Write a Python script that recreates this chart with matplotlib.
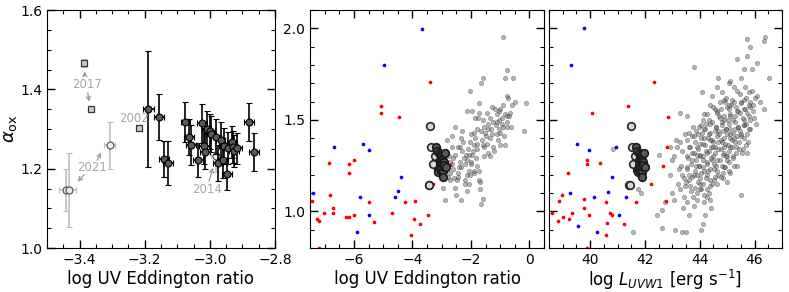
import matplotlib
matplotlib.use('Agg')
import matplotlib.pyplot as plt
from matplotlib.ticker import MultipleLocator

plt.rcParams['font.family'] = ['DejaVu Sans']
plt.rcParams['font.size'] = 10

# our source: dark points (log UV Eddington ratio, alpha_ox, errors, log L_UVW1)
dark_edd = [-3.189, -3.157, -3.140, -3.128, -3.075, -3.064, -3.058, -3.036, -3.023,
            -3.017, -3.015, -3.010, -3.000, -2.996, -2.981, -2.974, -2.967, -2.959,
            -2.957, -2.948, -2.943, -2.931, -2.930, -2.925, -2.916, -2.879, -2.864]
dark_aox = [1.350, 1.330, 1.224, 1.214, 1.318, 1.279, 1.259, 1.221, 1.314,
            1.258, 1.243, 1.301, 1.294, 1.287, 1.281, 1.214, 1.272, 1.222,
            1.258, 1.186, 1.252, 1.268, 1.255, 1.245, 1.251, 1.318, 1.241]
dark_aerr = [0.146, 0.058, 0.046, 0.055, 0.050, 0.045, 0.050, 0.043, 0.050,
             0.045, 0.045, 0.045, 0.045, 0.045, 0.045, 0.045, 0.045, 0.045,
             0.045, 0.040, 0.040, 0.040, 0.040, 0.040, 0.040, 0.048, 0.048]
dark_eerr = [0.017, 0.015, 0.015, 0.015, 0.015, 0.015, 0.015, 0.015, 0.015,
             0.015, 0.015, 0.015, 0.015, 0.015, 0.015, 0.015, 0.015, 0.015,
             0.015, 0.015, 0.015, 0.015, 0.015, 0.015, 0.015, 0.015, 0.015]
dark_lum = [41.67, 41.70, 41.72, 41.73, 41.79, 41.80, 41.80, 41.82, 41.84,
            41.84, 41.85, 41.85, 41.86, 41.86, 41.88, 41.89, 41.89, 41.90,
            41.90, 41.91, 41.92, 41.93, 41.93, 41.94, 41.94, 41.98, 42.00]

# older epochs
sq_edd = [-3.386, -3.366, -3.218]
sq_aox = [1.467, 1.350, 1.3025]
sq_aerr = [0.010, 0.0, 0.0]
sq_lum = [41.50, 41.51, 41.65]

old_edd = [-3.443, -3.432, -3.307, -2.981]
old_aox = [1.146, 1.146, 1.259, 1.232]
old_aerr = [0.053, 0.093, 0.059, 0.040]
old_eerr = [0.020, 0.020, 0.017, 0.015]
old_lum = [41.43, 41.45, 41.55, 41.88]

# comparison samples: red and blue
red_edd = [-3.39, -5.06, -5.07, -4.47, -6.85, -5.98, -6.18, -6.18, -6.81, -6.71,
           -6.71, -7.03, -7.44, -7.25, -7.18, -7.20, -6.27, -6.16, -6.00, -5.47,
           -5.30, -4.71, -4.25, -3.91, -3.94, -3.73, -4.05, -3.47, -3.28, -2.71]
red_aox_e = [1.709, 1.578, 1.538, 1.518, 1.267, 1.278, 1.258, 1.209, 1.087, 1.018,
             0.989, 0.989, 1.058, 0.958, 0.950, 0.800, 0.969, 0.969, 0.978, 1.051,
             0.940, 0.989, 1.051, 1.058, 0.958, 0.929, 0.869, 0.978, 1.149, 1.251]
blue_edd = [-3.68, -4.98, -6.69, -5.69, -5.48, -4.39, -4.48, -4.58, -5.79, -7.39,
            -5.49, -5.89]
blue_aox_e = [1.996, 1.798, 1.349, 1.369, 1.338, 1.187, 1.109, 1.078, 1.078, 1.098,
              0.978, 0.889]

red_lum = [42.33, 41.38, 40.08, 42.83, 42.81, 40.37, 39.88, 39.88, 39.18, 42.67,
           42.23, 39.79, 38.87, 38.96, 39.76, 39.35, 38.60, 39.02, 39.24, 38.82,
           39.96, 40.59, 40.73, 40.81, 40.63, 41.68, 41.23, 40.59, 42.78, 39.90]
red_aox_l = [1.709, 1.578, 1.538, 1.518, 1.349, 1.267, 1.278, 1.258, 1.209, 1.249,
             1.149, 1.067, 1.058, 1.087, 1.018, 0.989, 0.989, 0.967, 0.958, 0.949,
             0.978, 1.049, 0.989, 0.978, 0.938, 1.049, 0.929, 0.869, 1.058, 0.800]
blue_lum = [39.76, 39.32, 39.51, 39.95, 40.94, 40.79, 40.65, 40.15, 41.31, 39.28,
            41.07, 39.56, 40.25]
blue_aox_l = [2.000, 1.800, 1.369, 1.338, 1.349, 1.187, 1.107, 1.078, 1.078, 1.098,
              0.978, 0.918, 0.889]

# grey AGN sample vs Eddington ratio
grey_edd = [-0.90, -0.78, -0.85, -1.60, -1.65, -2.02, -0.55, -0.77, -0.72, -0.10,
            -1.71, -1.97, -2.14, -1.73, -1.46, -1.28, -1.16, -1.05, -0.89, -0.59,
            -0.84, -1.12, -1.35, -1.76, -1.87, -1.57, -1.55, -1.40, -1.23, -1.04,
            -0.95, -0.78, -0.75, -1.43, -1.78, -1.67, -1.88, -1.99, -2.33, -2.53,
            -2.65, -2.83, -2.45, -2.28, -2.03, -1.89, -1.78, -1.49, -1.27, -1.00,
            -1.08, -0.86, -0.18, -1.26, -1.55, -1.80, -1.94, -2.05, -2.31, -2.37,
            -2.54, -2.76, -2.85, -2.14, -1.55, -1.40, -1.35, -1.99, -2.21, -2.37,
            -2.66, -2.87, -3.00, -2.70, -2.62, -1.80, -1.73, -1.90, -2.06, -2.33,
            -2.45, -2.14, -2.02, -2.08, -2.21, -2.49, -2.94, -2.53, -2.14, -1.69,
            -1.73, -1.70, -1.60, -1.67, -2.52, -2.34, -2.90, -1.12, -1.00, -0.83,
            -0.89, -0.66, -0.75, -1.00, -2.78, -2.60, -2.95, -2.70,
            -2.25, -1.95, -1.62, -1.30, -1.15, -0.95, -2.40, -2.10, -1.85, -1.52,
            -2.72, -2.58, -2.20, -1.90, -1.45, -1.20, -2.88, -2.63, -2.30, -1.98,
            -1.35, -1.10, -0.70, -0.48, -1.58, -2.18, -2.43, -1.83, -1.05, -0.62]
grey_aox_e = [1.95, 1.77, 1.73, 1.73, 1.70, 1.66, 1.73, 1.63, 1.62, 1.59,
              1.59, 1.55, 1.55, 1.54, 1.54, 1.57, 1.56, 1.55, 1.58, 1.58,
              1.53, 1.53, 1.51, 1.51, 1.51, 1.50, 1.46, 1.48, 1.49, 1.50,
              1.51, 1.52, 1.46, 1.45, 1.45, 1.44, 1.43, 1.42, 1.40, 1.46,
              1.41, 1.39, 1.35, 1.38, 1.38, 1.36, 1.37, 1.41, 1.42, 1.43,
              1.39, 1.41, 1.44, 1.35, 1.35, 1.34, 1.33, 1.31, 1.33, 1.35,
              1.31, 1.30, 1.32, 1.28, 1.30, 1.32, 1.30, 1.27, 1.26, 1.27,
              1.26, 1.25, 1.23, 1.21, 1.23, 1.25, 1.22, 1.22, 1.22, 1.24,
              1.21, 1.20, 1.20, 1.15, 1.17, 1.17, 1.13, 1.13, 1.11, 1.16,
              1.17, 1.12, 1.07, 1.04, 1.09, 1.06, 1.06, 1.42, 1.36, 1.36,
              1.46, 1.54, 1.49, 1.56, 1.19, 1.29, 1.28, 1.17,
              1.29, 1.31, 1.39, 1.45, 1.47, 1.48, 1.24, 1.34, 1.40, 1.43,
              1.27, 1.18, 1.15, 1.21, 1.37, 1.33, 1.22, 1.35, 1.44, 1.26,
              1.40, 1.49, 1.52, 1.60, 1.36, 1.31, 1.19, 1.29, 1.45, 1.46]

# grey AGN sample vs luminosity
grey_lum = [46.38, 46.35, 45.74, 45.85, 46.10, 45.73, 45.37, 45.90, 46.54, 43.80,
            45.61, 45.12, 45.49, 44.66, 44.09, 44.82, 45.06, 45.24, 44.63, 45.37,
            45.79, 46.10, 46.34, 45.85, 45.61, 44.88, 44.45, 44.39, 43.29, 43.54,
            44.15, 44.63, 45.00, 45.37, 45.73, 45.98, 45.12, 44.82, 44.39, 43.96,
            43.60, 43.13, 43.78, 44.09, 44.57, 44.94, 45.30, 45.61, 45.85, 45.49,
            45.12, 44.76, 44.45, 44.02, 43.66, 43.35, 42.50, 43.07, 43.54, 43.90,
            44.21, 44.57, 44.88, 45.18, 45.43, 45.73, 45.00, 44.63, 44.27, 43.96,
            43.54, 43.23, 42.93, 43.41, 43.78, 44.15, 44.51, 44.88, 45.24, 45.12,
            44.76, 44.39, 44.02, 43.66, 43.29, 42.99, 43.41, 43.90, 44.27, 44.63,
            45.00, 45.49, 43.90, 43.54, 43.05, 43.78, 44.15, 44.39, 42.62, 42.44,
            42.63, 43.11, 43.37, 43.48, 44.06, 44.11, 42.72, 41.73, 41.87, 41.56,
            40.84, 43.29, 43.17, 43.54,
            44.20, 44.30, 44.40, 44.50, 44.60, 44.70, 44.80, 44.90, 45.00, 45.10,
            45.20, 45.30, 45.40, 45.50, 45.60, 45.70, 45.80, 45.90, 44.00, 44.10,
            43.90, 43.80, 43.70, 43.60, 43.90, 44.00, 44.30, 44.50, 44.60, 44.70,
            44.90, 45.00, 45.10, 45.20, 45.30, 45.40, 45.50, 45.60, 45.70, 45.80,
            44.25, 44.45, 44.65, 44.85, 45.05, 45.25, 45.45, 45.65, 44.35, 44.55,
            44.75, 44.95, 45.15, 44.15, 43.95, 43.85, 44.05, 44.25, 44.45, 44.65,
            44.85, 45.05, 45.25, 45.35, 45.55, 45.75, 45.95, 46.05, 46.20, 43.75,
            43.45, 43.50, 43.30, 43.20, 43.00, 42.90, 43.40, 43.60, 44.20, 44.40,
            44.92, 45.18, 45.52, 45.83, 46.02, 44.48, 44.77, 45.08, 45.33, 45.66,
            45.93, 44.28, 44.62, 44.88, 45.12, 45.47, 45.78, 44.12, 44.43, 44.72,
            45.02, 45.27, 45.58, 45.82, 44.03, 44.22, 44.58, 44.82, 45.07, 45.38,
            45.62, 43.88, 44.17, 44.38, 44.68, 44.97, 45.22, 45.48, 45.72, 43.72,
            44.03, 44.33, 44.62, 44.87, 45.12, 45.36, 45.63, 43.83, 44.12, 44.37,
            44.67, 44.93, 45.17, 45.42, 45.68, 43.62, 43.92, 44.18, 44.47, 44.77,
            45.03, 45.32, 45.57, 43.72, 44.02, 44.32, 44.57, 44.83, 45.07, 45.33,
            43.57, 43.87, 44.13, 44.42, 44.72, 44.97, 45.22, 43.67, 43.97, 44.27,
            44.53, 44.82, 45.08, 43.52, 43.83, 44.12, 44.37, 44.63, 44.92, 43.37,
            43.72, 44.03, 44.28, 44.57, 44.83, 43.62, 43.93, 44.22, 44.52, 43.47,
            43.82, 44.12, 44.38, 43.67, 44.02, 44.32, 43.77, 44.17]
grey_aox_l = [1.95, 1.93, 1.94, 1.90, 1.81, 1.85, 1.83, 1.78, 1.73, 1.79,
              1.78, 1.71, 1.73, 1.73, 1.65, 1.65, 1.70, 1.68, 1.68, 1.66,
              1.65, 1.63, 1.56, 1.57, 1.61, 1.61, 1.63, 1.58, 1.54, 1.52,
              1.53, 1.55, 1.57, 1.55, 1.54, 1.51, 1.52, 1.49, 1.48, 1.46,
              1.43, 1.39, 1.41, 1.43, 1.44, 1.45, 1.45, 1.47, 1.45, 1.41,
              1.40, 1.39, 1.39, 1.37, 1.35, 1.33, 1.31, 1.30, 1.30, 1.31,
              1.33, 1.35, 1.35, 1.35, 1.34, 1.32, 1.30, 1.28, 1.26, 1.25,
              1.24, 1.23, 1.20, 1.18, 1.20, 1.22, 1.23, 1.24, 1.25, 1.21,
              1.19, 1.17, 1.15, 1.14, 1.12, 1.10, 1.08, 1.10, 1.12, 1.15,
              1.16, 1.09, 1.06, 1.05, 1.06, 1.03, 1.05, 1.06, 1.01, 0.98,
              0.91, 0.90, 0.89, 0.89, 0.90, 0.93, 1.05, 1.12, 1.10, 0.89,
              1.34, 1.38, 1.35, 1.39,
              1.45, 1.40, 1.35, 1.30, 1.25, 1.42, 1.38, 1.32, 1.28, 1.45,
              1.50, 1.38, 1.55, 1.60, 1.50, 1.62, 1.58, 1.66, 1.30, 1.28,
              1.35, 1.32, 1.28, 1.20, 1.20, 1.18, 1.22, 1.38, 1.46, 1.52,
              1.50, 1.42, 1.35, 1.30, 1.52, 1.46, 1.42, 1.56, 1.48, 1.45,
              1.32, 1.28, 1.34, 1.44, 1.56, 1.60, 1.64, 1.68, 1.50, 1.56,
              1.60, 1.62, 1.58, 1.40, 1.42, 1.25, 1.12, 1.08, 1.15, 1.20,
              1.18, 1.22, 1.40, 1.25, 1.32, 1.38, 1.55, 1.48, 1.60, 1.46,
              1.42, 1.16, 1.25, 1.15, 1.28, 1.35, 1.02, 0.98, 0.98, 1.02,
              1.60, 1.61, 1.59, 1.60, 1.62, 1.57, 1.56, 1.58, 1.57, 1.56,
              1.58, 1.53, 1.54, 1.52, 1.53, 1.54, 1.52, 1.50, 1.49, 1.51,
              1.50, 1.49, 1.51, 1.50, 1.47, 1.48, 1.46, 1.47, 1.48, 1.46,
              1.47, 1.44, 1.45, 1.43, 1.44, 1.45, 1.43, 1.44, 1.42, 1.41,
              1.40, 1.42, 1.41, 1.40, 1.42, 1.41, 1.40, 1.38, 1.37, 1.39,
              1.38, 1.37, 1.39, 1.38, 1.36, 1.35, 1.34, 1.36, 1.35, 1.34,
              1.36, 1.35, 1.34, 1.32, 1.31, 1.33, 1.32, 1.31, 1.33, 1.32,
              1.29, 1.28, 1.30, 1.29, 1.28, 1.30, 1.29, 1.26, 1.25, 1.27,
              1.26, 1.25, 1.27, 1.23, 1.22, 1.24, 1.23, 1.22, 1.24, 1.20,
              1.19, 1.21, 1.20, 1.19, 1.21, 1.17, 1.16, 1.18, 1.17, 1.14,
              1.13, 1.15, 1.14, 1.11, 1.12, 1.10, 1.08, 1.09]

W, H = 789, 292
fig = plt.figure(figsize=(W / 100, H / 100), dpi=100)
ax1 = fig.add_axes([47 / W, 44 / H, 228 / W, 238 / H])
ax2 = fig.add_axes([310 / W, 44 / H, 234 / W, 238 / H])
ax3 = fig.add_axes([549 / W, 44 / H, 233 / W, 238 / H])

for ax in (ax1, ax2, ax3):
    ax.tick_params(which='both', direction='in', top=True, right=True, labelsize=10)
    ax.tick_params(which='major', length=6, width=1)
    ax.tick_params(which='minor', length=3, width=0.8)

# ---- panel 1
ltgrey = '0.75'
ax1.errorbar(old_edd, old_aox, yerr=old_aerr, xerr=old_eerr, fmt='o', ms=5,
             mfc='0.92', mec='0.3', mew=0.8, ecolor=ltgrey, elinewidth=1.2,
             capsize=2.5, zorder=2)
ax1.errorbar(sq_edd, sq_aox, yerr=sq_aerr, fmt='s', ms=5, mfc='0.8', mec='0.2',
             mew=0.9, ecolor=ltgrey, elinewidth=1.2, capsize=2.5, zorder=2)
ax1.errorbar(dark_edd, dark_aox, yerr=dark_aerr, xerr=dark_eerr, fmt='o', ms=5,
             mfc='0.35', mec='k', mew=0.8, ecolor='k', elinewidth=1.2,
             capsize=2.5, zorder=3)

ann = dict(color='0.65', fontsize=8.5, ha='center', va='center')
arr = dict(arrowstyle='->', color='0.6', lw=0.9, shrinkA=2, shrinkB=2,
           mutation_scale=7)
ax1.text(-3.376, 1.411, '2017', **ann)
ax1.annotate('', xy=(-3.386, 1.452), xytext=(-3.383, 1.426), arrowprops=arr)
ax1.annotate('', xy=(-3.369, 1.362), xytext=(-3.376, 1.398), arrowprops=arr)
ax1.text(-3.363, 1.2025, '2021', **ann)
ax1.annotate('', xy=(-3.412, 1.162), xytext=(-3.38, 1.19), arrowprops=arr)
ax1.annotate('', xy=(-3.33, 1.247), xytext=(-3.35, 1.215), arrowprops=arr)
ax1.text(-3.232, 1.327, '2002', **ann)
ax1.text(-3.010, 1.148, '2014', **ann)
ax1.annotate('', xy=(-2.988, 1.209), xytext=(-3.005, 1.162), arrowprops=arr)

ax1.set_xlim(-3.5, -2.8)
ax1.set_ylim(1.0, 1.6)
ax1.xaxis.set_major_locator(MultipleLocator(0.2))
ax1.xaxis.set_minor_locator(MultipleLocator(0.05))
ax1.yaxis.set_major_locator(MultipleLocator(0.2))
ax1.yaxis.set_minor_locator(MultipleLocator(0.05))
ax1.set_xlabel('log UV Eddington ratio', fontsize=12, labelpad=2)
ax1.set_ylabel(r'$\alpha_{\rm ox}$', fontsize=13, labelpad=1)


# ---- panels 2 and 3
def draw_samples(ax, gx, gy, rx, ry, bx, by, dx, sx, ox):
    ax.scatter(gx, gy, s=10, c='0.35', edgecolors='0.15', lw=0.4, alpha=0.45,
               zorder=1)
    ax.scatter(rx, ry, s=7, c='red', lw=0, zorder=2)
    ax.scatter(bx, by, s=7, c='blue', lw=0, zorder=2)
    ax.scatter(sx + ox, sq_aox + old_aox, s=30, c='0.85', edgecolors='0.15',
               lw=1.2, zorder=3)
    ax.scatter(dx, dark_aox, s=30, c='0.35', edgecolors='0.1', lw=1.2, zorder=4)


draw_samples(ax2, grey_edd, grey_aox_e, red_edd, red_aox_e, blue_edd, blue_aox_e,
             dark_edd, sq_edd, old_edd)
draw_samples(ax3, grey_lum, grey_aox_l, red_lum, red_aox_l, blue_lum, blue_aox_l,
             dark_lum, sq_lum, old_lum)

ax2.set_xlim(-7.5, 0.5)
ax3.set_xlim(38.5, 47)
for ax in (ax2, ax3):
    ax.set_ylim(0.8, 2.1)
    ax.xaxis.set_major_locator(MultipleLocator(2))
    ax.xaxis.set_minor_locator(MultipleLocator(0.5))
    ax.yaxis.set_major_locator(MultipleLocator(0.5))
    ax.yaxis.set_minor_locator(MultipleLocator(0.1))
ax3.tick_params(labelleft=False)
ax2.set_xlabel('log UV Eddington ratio', fontsize=12, labelpad=2)
ax3.set_xlabel(r'log $L_{UVW1}$ [erg s$^{-1}$]', fontsize=12, labelpad=1)

fig.savefig('out.png', dpi=100)
